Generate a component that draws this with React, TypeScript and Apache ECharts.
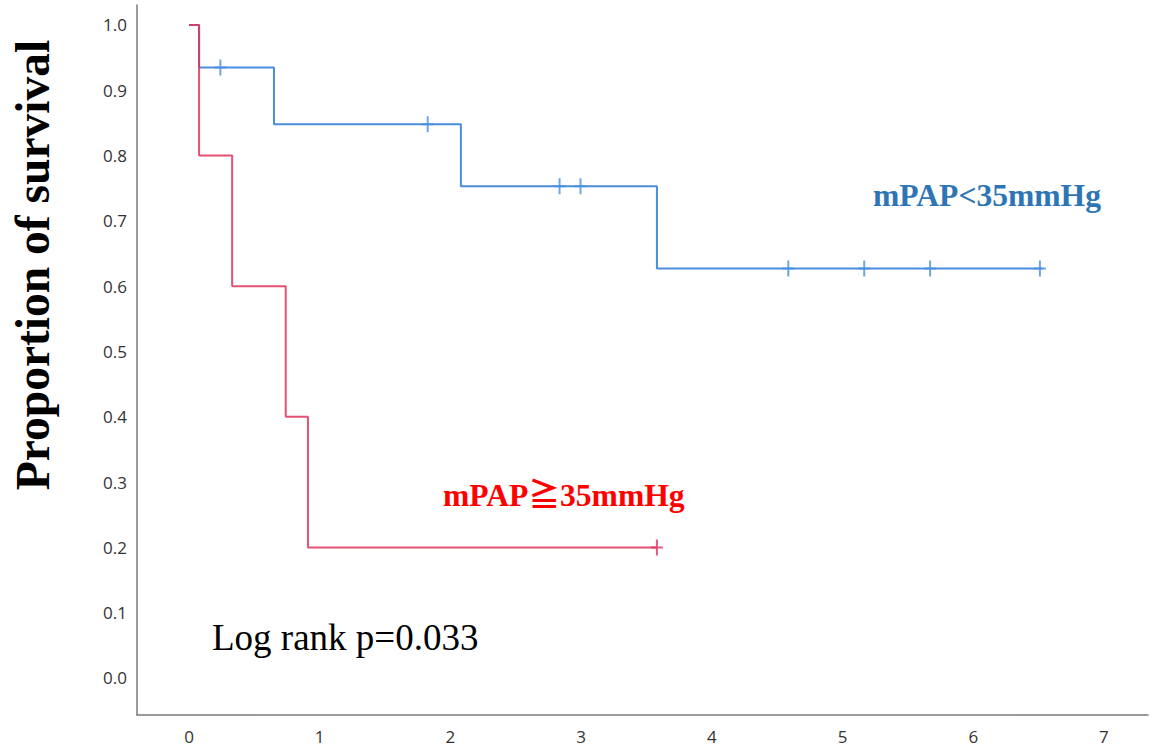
import React, { useEffect, useRef } from "react";
import * as echarts from "echarts";

// Kaplan–Meier steps (time in years, survival proportion)
const highTimes = [0, 0.077, 0.33, 0.74, 0.91, 3.58];
const highSurv = [1.0, 0.8, 0.6, 0.4, 0.2, 0.2];
const highCensorTimes = [3.58];
const highCensorSurv = [0.2];

const lowTimes = [0, 0.077, 0.65, 2.08, 3.58, 6.53];
const lowSurv = [1.0, 0.935, 0.848, 0.753, 0.627, 0.627];
const lowCensorTimes = [0.24, 1.826, 2.835, 2.995, 4.585, 5.166, 5.67, 6.51];
const lowCensorSurv = [0.935, 0.848, 0.753, 0.753, 0.627, 0.627, 0.627, 0.627];

const xTicks = [0, 1, 2, 3, 4, 5, 6, 7];
const yTicks = [0, 0.1, 0.2, 0.3, 0.4, 0.5, 0.6, 0.7, 0.8, 0.9, 1.0];

const BLUE = "#4a8ee0";
const RED = "#e0325a";
const PLUS = "path://M5,0h2v7h5v2h-5v7h-2v-7h-5v-2h5z";

const zip = (a: number[], b: number[]) => a.map((v, i) => [v, b[i]]);

export default function App() {
  const ref = useRef<HTMLDivElement>(null);
  useEffect(() => {
    if (!ref.current) return;
    const chart = echarts.init(ref.current, null, { renderer: "svg" });
    const labelStyle = {
      color: "#333",
      fontFamily: "Open Sans",
      fontSize: 17,
    };
    chart.setOption({
      animation: false,
      backgroundColor: "#fff",
      grid: { left: 137, right: 4, top: 5, bottom: 34, outerBoundsMode: "none" },
      xAxis: {
        type: "value",
        min: -0.398,
        max: 7.337,
        axisLine: { show: true, onZero: false, lineStyle: { color: "#7a7a7a", width: 1.5 } },
        axisTick: { show: false },
        splitLine: { show: false },
        axisLabel: {
          ...labelStyle,
          margin: 13,
          customValues: xTicks,
          formatter: (v: number) => String(Math.round(v)),
        },
      },
      yAxis: {
        type: "value",
        min: -0.0567,
        max: 1.0306,
        axisLine: { show: true, onZero: false, lineStyle: { color: "#7a7a7a", width: 1.5 } },
        axisTick: { show: false },
        splitLine: { show: false },
        axisLabel: {
          ...labelStyle,
          margin: 10,
          customValues: yTicks,
          formatter: (v: number) => v.toFixed(1),
        },
      },
      series: [
        {
          type: "line",
          step: "end",
          data: zip(lowTimes, lowSurv),
          showSymbol: false,
          lineStyle: { color: BLUE, width: 2 },
          z: 2,
        },
        {
          type: "line",
          step: "end",
          data: zip(highTimes, highSurv),
          showSymbol: false,
          lineStyle: { color: RED, width: 2, opacity: 0.85 },
          z: 3,
        },
        {
          type: "scatter",
          data: zip(lowCensorTimes, lowCensorSurv),
          symbol: PLUS,
          symbolSize: [12, 16],
          itemStyle: { color: BLUE },
          z: 4,
        },
        {
          type: "scatter",
          data: zip(highCensorTimes, highCensorSurv),
          symbol: PLUS,
          symbolSize: [12, 16],
          itemStyle: { color: RED },
          z: 4,
        },
      ],
      graphic: [
        {
          type: "text",
          x: 33,
          y: 265,
          rotation: Math.PI / 2,
          style: {
            text: "Proportion of survival",
            fontFamily: "Liberation Serif",
            fontWeight: "bold",
            fontSize: 47.5,
            fill: "#000",
            align: "center",
            verticalAlign: "middle",
          },
        },
        {
          type: "text",
          x: 873,
          y: 195,
          style: {
            text: "mPAP<35mmHg",
            fontFamily: "Liberation Serif",
            fontWeight: "bold",
            fontSize: 31.6,
            fill: "#2e75b6",
            align: "left",
            verticalAlign: "middle",
          },
        },
        {
          type: "text",
          x: 443,
          y: 495,
          style: {
            text: "mPAP≧35mmHg",
            fontFamily: "Liberation Serif, Noto Sans CJK JP",
            fontWeight: "bold",
            fontSize: 31.6,
            fill: "#ff0000",
            align: "left",
            verticalAlign: "middle",
          },
        },
        {
          type: "text",
          x: 212,
          y: 637,
          style: {
            text: "Log rank p=0.033",
            fontFamily: "Liberation Serif",
            fontSize: 37,
            fill: "#000",
            align: "left",
            verticalAlign: "middle",
          },
        },
      ],
    });
    return () => chart.dispose();
  }, []);
  return (
    <div
      ref={ref}
      style={{ position: "absolute", left: 0, top: 0, width: 1152, height: 749 }}
    />
  );
}
